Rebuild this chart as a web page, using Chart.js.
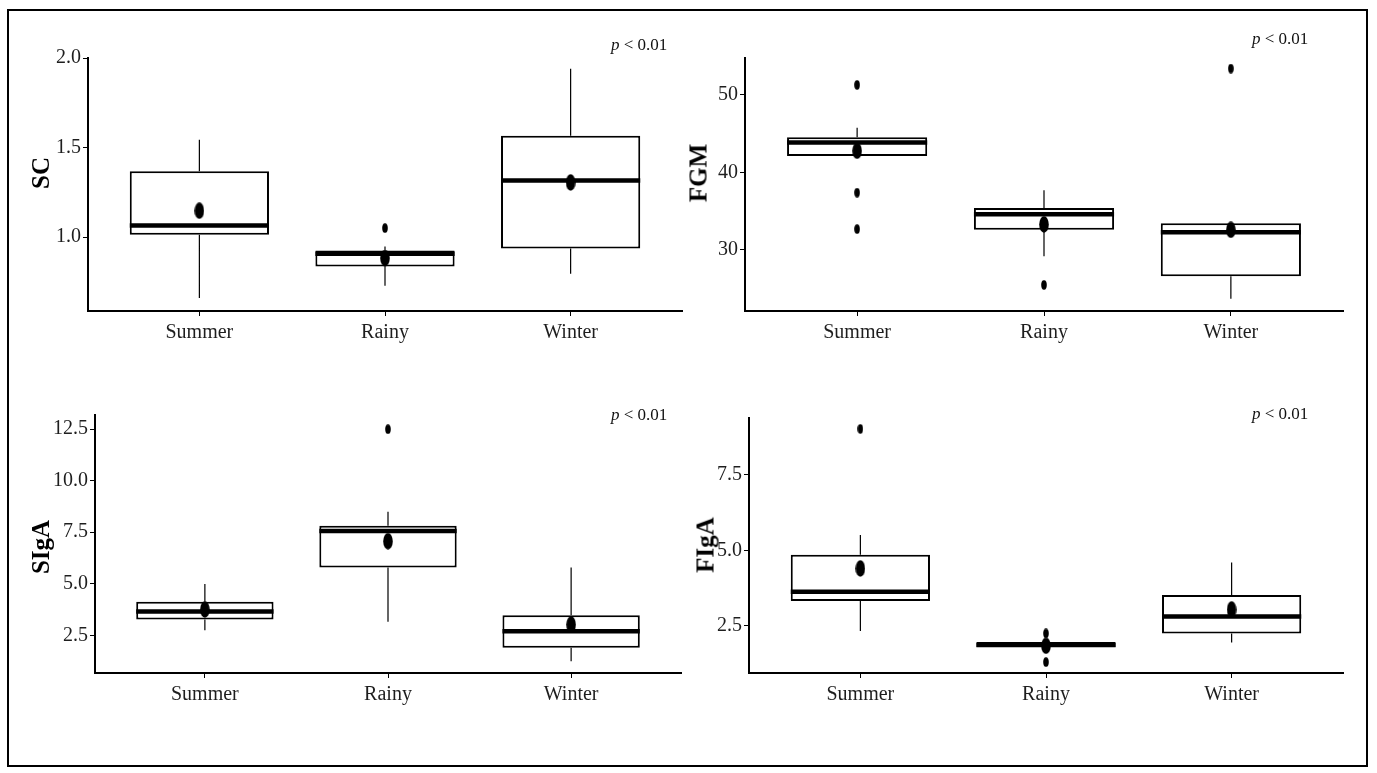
<!DOCTYPE html>
<html>
<head>
<meta charset="utf-8">
<script src="https://cdn.jsdelivr.net/npm/chart.js@4.4.1/dist/chart.umd.min.js"></script>
<style>
html, body { margin: 0; padding: 0; background: #ffffff; }
body { width: 1377px; height: 773px; position: relative; overflow: hidden; font-family: 'Liberation Serif', 'Times New Roman', serif; }
#frame { position: absolute; left: 7px; top: 9px; width: 1361px; height: 758px; border: 2.5px solid #000; box-sizing: border-box; }
canvas { position: absolute; }
.ytitle { position: absolute; font-weight: bold; font-size: 25px; line-height: 25px; white-space: nowrap; color: #000;
          transform: translate(-50%, -50%) rotate(-90deg); }
.pval { position: absolute; font-size: 17px; line-height: 17px; white-space: nowrap; color: #111; }
</style>
</head>
<body>
<div id="frame"></div>
<canvas id="c1"></canvas>
<canvas id="c2"></canvas>
<canvas id="c3"></canvas>
<canvas id="c4"></canvas>
<div class="ytitle" style="left:40px; top:173px;">SC</div>
<div class="ytitle" style="left:698px; top:173px;">FGM</div>
<div class="ytitle" style="left:40px; top:547px;">SIgA</div>
<div class="ytitle" style="left:705px; top:545px;">FIgA</div>
<div class="pval" style="left:611px; top:36px;"><i>p</i> &lt; 0.01</div>
<div class="pval" style="left:1252px; top:30px;"><i>p</i> &lt; 0.01</div>
<div class="pval" style="left:611px; top:406px;"><i>p</i> &lt; 0.01</div>
<div class="pval" style="left:1252px; top:405px;"><i>p</i> &lt; 0.01</div>
<script>
// ---------------- data ----------------
const categories = ['Summer', 'Rainy', 'Winter'];

// SC
const scLow      = [0.659, 0.728, 0.795];
const scQ1       = [1.013, 0.836, 0.936];
const scMedian   = [1.065, 0.907, 1.316];
const scQ3       = [1.367, 0.925, 1.566];
const scHigh     = [1.544, 0.947, 1.940];
const scMean     = [1.147, 0.883, 1.305];
const scOutliers = [[], [1.05], []];
const scTicks      = [1.0, 1.5, 2.0];
const scTickLabels = ['1.0', '1.5', '2.0'];

// FGM
const fgmLow      = [42.13, 29.2, 23.7];
const fgmQ1       = [42.13, 32.62, 26.6];
const fgmMedian   = [43.87, 34.6, 32.3];
const fgmQ3       = [44.54, 35.42, 33.44];
const fgmHigh     = [45.78, 37.7, 33.44];
const fgmMean     = [42.8, 33.3, 32.6];
const fgmOutliers = [[51.3, 37.4, 32.7], [25.5], [53.4]];
const fgmTicks      = [30, 40, 50];
const fgmTickLabels = ['30', '40', '50'];

// SIgA
const sigaLow      = [2.74, 3.15, 1.24];
const sigaQ1       = [3.26, 5.79, 1.90];
const sigaMedian   = [3.65, 7.55, 2.69];
const sigaQ3       = [4.12, 7.81, 3.47];
const sigaHigh     = [4.98, 8.49, 5.79];
const sigaMean     = [3.75, 7.06, 3.02];
const sigaOutliers = [[], [12.49], []];
const sigaTicks      = [2.5, 5.0, 7.5, 10.0, 12.5];
const sigaTickLabels = ['2.5', '5.0', '7.5', '10.0', '12.5'];

// FIgA
const figaLow      = [2.33, 1.80, 1.95];
const figaQ1       = [3.32, 1.80, 2.25];
const figaMedian   = [3.63, 1.87, 2.81];
const figaQ3       = [4.85, 1.97, 3.52];
const figaHigh     = [5.51, 1.97, 4.60];
const figaMean     = [4.40, 1.84, 3.04];
const figaOutliers = [[9.02], [2.25, 1.30], []];
const figaTicks      = [2.5, 5.0, 7.5];
const figaTickLabels = ['2.5', '5.0', '7.5'];

// axis ranges (value limits)
const scRange   = [0.587, 2.0];
const fgmRange  = [22.13, 54.77];
const sigaRange = [0.67, 13.18];
const figaRange = [0.94, 9.38];

// ---------------- styling / layout ----------------
const BOX_W = 0.75;       // box width in category units
const YW = 76;            // width reserved for y tick labels
const PAD_TOP = 30, PAD_RIGHT = 10, XH = 50;
const FONT = "'Liberation Serif', 'Times New Roman', serif";

function ellipseImg(w, h) {
  const c = document.createElement('canvas');
  c.width = w; c.height = h;
  const g = c.getContext('2d');
  g.fillStyle = '#000';
  g.beginPath();
  g.ellipse(w / 2, h / 2, w / 2 - 0.2, h / 2 - 0.2, 0, 0, Math.PI * 2);
  g.fill();
  return c;
}
const meanImg = ellipseImg(10, 17);
const outImg = ellipseImg(6, 10);

function makePanel(id, area, d) {
  const cx = area.left - YW, cy = area.top - PAD_TOP;
  const cw = area.right - cx + PAD_RIGHT, ch = area.bottom - cy + XH;
  const cv = document.getElementById(id);
  cv.width = cw; cv.height = ch;
  cv.style.left = cx + 'px'; cv.style.top = cy + 'px';
  cv.style.width = cw + 'px'; cv.style.height = ch + 'px';

  const whiskers = [], medians = [], outs = [], means = [];
  categories.forEach((c, i) => {
    const x = i + 1;
    whiskers.push({x: x, y: d.high[i]}, {x: x, y: d.q3[i]}, {x: x, y: null},
                  {x: x, y: d.q1[i]}, {x: x, y: d.low[i]}, {x: x, y: null});
    medians.push({x: x - BOX_W / 2, y: d.median[i]}, {x: x + BOX_W / 2, y: d.median[i]}, {x: x + BOX_W / 2, y: null});
    d.outliers[i].forEach(v => outs.push({x: x, y: v}));
    means.push({x: x, y: d.mean[i]});
  });

  const axisCommon = {
    grid: { display: true, drawOnChartArea: false, drawTicks: true, tickLength: 5, color: '#000', lineWidth: 1, offset: false },
    border: { display: true, color: '#000', width: 2 }
  };

  new Chart(cv, {
    type: 'bar',
    data: {
      datasets: [
        { type: 'bar', label: 'box', data: categories.map((c, i) => ({x: i + 1, y: [d.q1[i], d.q3[i]]})),
          backgroundColor: '#ffffff', borderColor: '#000', borderWidth: 2, borderSkipped: false,
          barPercentage: BOX_W, categoryPercentage: 1, grouped: false, order: 3 },
        { type: 'line', label: 'whisker', data: whiskers, borderColor: '#000', borderWidth: 1.2,
          pointRadius: 0, spanGaps: false, fill: false, order: 4 },
        { type: 'line', label: 'median', data: medians, borderColor: '#000', borderWidth: 4.5,
          borderCapStyle: 'butt', pointRadius: 0, spanGaps: false, fill: false, order: 2 },
        { type: 'line', label: 'outlier', data: outs, showLine: false, pointStyle: outImg, pointRadius: 5, order: 1 },
        { type: 'line', label: 'mean', data: means, showLine: false, pointStyle: meanImg, pointRadius: 5, order: 0 }
      ]
    },
    options: {
      responsive: false,
      animation: false,
      devicePixelRatio: 1,
      events: [],
      layout: { padding: { left: 0, top: PAD_TOP, right: PAD_RIGHT, bottom: 0 } },
      plugins: { legend: { display: false }, tooltip: { enabled: false } },
      scales: {
        x: Object.assign({
          type: 'linear', min: 0.4, max: 3.6, offset: false,
          afterBuildTicks: s => { s.ticks = categories.map((c, i) => ({value: i + 1})); },
          afterFit: s => { s.height = XH; },
          ticks: { callback: v => categories[Math.round(v) - 1], font: { family: FONT, size: 20 },
                   color: '#1e1e1e', padding: 5, maxRotation: 0, autoSkip: false }
        }, axisCommon),
        y: Object.assign({
          type: 'linear', min: d.range[0], max: d.range[1], beginAtZero: false,
          afterBuildTicks: s => { s.ticks = d.ticks.map(v => ({value: v})); },
          afterFit: s => { s.width = YW; },
          ticks: { callback: (v, i) => d.tickLabels[i], font: { family: FONT, size: 20 },
                   color: '#1e1e1e', padding: 2, autoSkip: false }
        }, axisCommon)
      }
    }
  });
}

makePanel('c1', {left: 88, top: 58, right: 682, bottom: 311},
  {low: scLow, q1: scQ1, median: scMedian, q3: scQ3, high: scHigh, mean: scMean, outliers: scOutliers,
   ticks: scTicks, tickLabels: scTickLabels, range: scRange});
makePanel('c2', {left: 745, top: 58, right: 1343, bottom: 311},
  {low: fgmLow, q1: fgmQ1, median: fgmMedian, q3: fgmQ3, high: fgmHigh, mean: fgmMean, outliers: fgmOutliers,
   ticks: fgmTicks, tickLabels: fgmTickLabels, range: fgmRange});
makePanel('c3', {left: 95, top: 415, right: 681, bottom: 673},
  {low: sigaLow, q1: sigaQ1, median: sigaMedian, q3: sigaQ3, high: sigaHigh, mean: sigaMean, outliers: sigaOutliers,
   ticks: sigaTicks, tickLabels: sigaTickLabels, range: sigaRange});
makePanel('c4', {left: 749, top: 418, right: 1343, bottom: 673},
  {low: figaLow, q1: figaQ1, median: figaMedian, q3: figaQ3, high: figaHigh, mean: figaMean, outliers: figaOutliers,
   ticks: figaTicks, tickLabels: figaTickLabels, range: figaRange});
</script>
</body>
</html>
